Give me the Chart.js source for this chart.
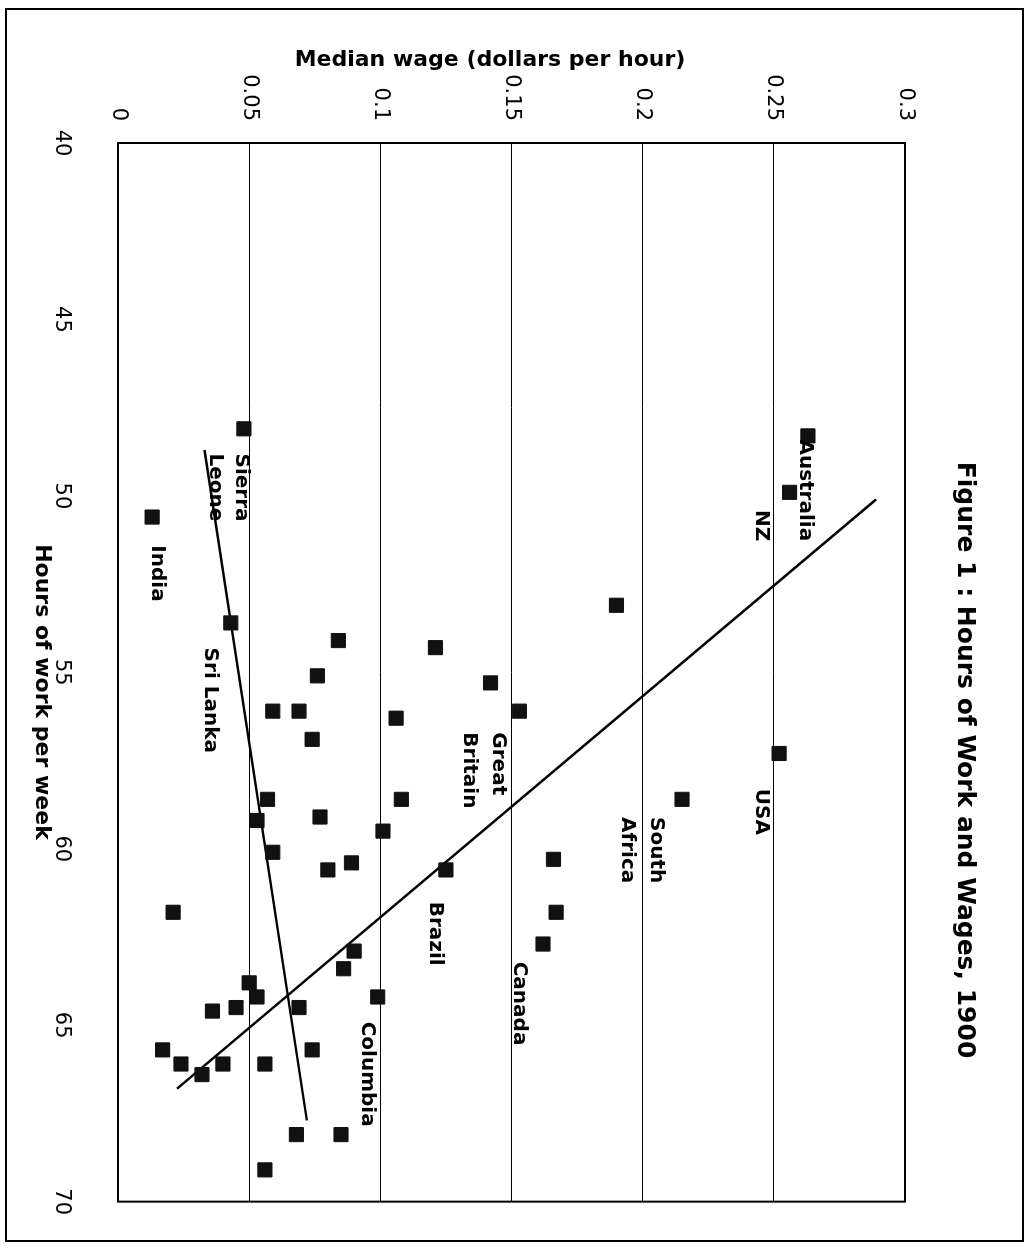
<!DOCTYPE html>
<html>
<head>
<meta charset="utf-8">
<script src="https://cdn.jsdelivr.net/npm/chart.js@4/dist/chart.umd.min.js"></script>
<style>
  html, body { margin: 0; padding: 0; background: #fff; }
  #page { position: relative; width: 1030px; height: 1251px; overflow: hidden; }
  #frame { position: absolute; left: 5px; top: 8px; width: 1015px; height: 1230px; border: 2px solid #000; }
  #wrap { position: absolute; left: 0; top: 0; width: 1251px; height: 1030px;
          transform-origin: 0 0; transform: translate(1030px, 0) rotate(90deg); }
</style>
</head>
<body>
<div id="page">
  <div id="frame"></div>
  <div id="wrap"><canvas id="c"></canvas></div>
</div>
<script>
// hours of work per week / median wage (dollars per hour)
const hours = [48.3, 49.9, 53.1, 57.3, 58.6, 54.3, 55.3, 56.1, 54.1, 55.1, 56.1, 56.1, 56.3, 56.9, 58.6, 58.6,
  59.2, 59.1, 59.5, 60.1, 60.3, 60.4, 60.6, 60.6, 61.8, 61.8, 62.7, 62.9, 63.4, 63.8, 64.2, 64.2, 64.5, 64.6,
  64.5, 65.7, 65.7, 66.1, 66.1, 66.1, 66.4, 68.1, 68.1, 69.1, 48.1, 50.6, 53.6];
const wages = [0.263, 0.256, 0.190, 0.252, 0.215, 0.121, 0.142, 0.153, 0.084, 0.076, 0.059, 0.069, 0.106, 0.074, 0.108, 0.057,
  0.053, 0.077, 0.101, 0.059, 0.166, 0.089, 0.080, 0.125, 0.167, 0.021, 0.162, 0.090, 0.086, 0.050, 0.053, 0.099, 0.045, 0.036,
  0.069, 0.074, 0.017, 0.040, 0.024, 0.056, 0.032, 0.068, 0.085, 0.056, 0.048, 0.013, 0.043];
const trendRich = [{ x: 50.1, y: 0.289 }, { x: 66.8, y: 0.0225 }];
const trendPoor = [{ x: 48.7, y: 0.033 }, { x: 67.7, y: 0.072 }];
const labelText = ['Australia', 'NZ', 'USA', 'South', 'Africa', 'Great', 'Britain', 'Brazil', 'Canada', 'Columbia',
  'Sierra', 'Leone', 'India', 'Sri Lanka'];
const labelHours = [48.4, 50.4, 58.3, 59.1, 59.1, 56.7, 56.7, 61.5, 63.2, 64.9, 48.8, 48.8, 51.4, 54.3];
const labelWages = [0.262, 0.245, 0.245, 0.205, 0.194, 0.145, 0.134, 0.121, 0.153, 0.095, 0.047, 0.037, 0.015, 0.035];

const FONT = 'DejaVu Sans, Verdana, sans-serif';

const extras = {
  id: 'extras',
  afterDraw(chart) {
    const { ctx, chartArea: a, scales: { x, y } } = chart;
    ctx.save();
    ctx.strokeStyle = '#000';
    ctx.lineWidth = 2;
    ctx.strokeRect(a.left, a.top, a.right - a.left, a.bottom - a.top);
    ctx.fillStyle = '#000';
    ctx.textBaseline = 'middle';
    ctx.textAlign = 'left';
    ctx.font = 'bold 20px ' + FONT;
    labelText.forEach((t, i) => ctx.fillText(t, x.getPixelForValue(labelHours[i]), y.getPixelForValue(labelWages[i])));
    ctx.textAlign = 'center';
    ctx.font = 'bold 25px ' + FONT;
    ctx.fillText('Figure 1 : Hours of Work and Wages, 1900', 760, 65);
    ctx.font = 'bold 22px ' + FONT;
    ctx.fillText('Hours of work per week', 692, 988);
    ctx.translate(60, 540);
    ctx.rotate(-Math.PI / 2);
    ctx.fillText('Median wage (dollars per hour)', 0, 0);
    ctx.restore();
  }
};

new Chart(document.getElementById('c'), {
  type: 'scatter',
  data: {
    datasets: [
      { data: hours.map((h, i) => ({ x: h, y: wages[i] })), pointStyle: 'rect', pointRadius: 10,
        backgroundColor: '#111', borderColor: '#111' },
      { data: trendRich, showLine: true, pointRadius: 0, borderColor: '#000', borderWidth: 2.5 },
      { data: trendPoor, showLine: true, pointRadius: 0, borderColor: '#000', borderWidth: 2.5 }
    ]
  },
  options: {
    responsive: true,
    maintainAspectRatio: false,
    animation: false,
    layout: { padding: { top: 125, right: 46, left: 0, bottom: 0 } },
    plugins: { legend: { display: false }, tooltip: { enabled: false } },
    scales: {
      x: {
        min: 40, max: 70,
        ticks: { stepSize: 5, color: '#000', font: { family: FONT, size: 21 }, padding: 36 },
        grid: { display: false },
        border: { display: false },
        afterFit: s => { s.height = 118; }
      },
      y: {
        min: 0, max: 0.3,
        ticks: { stepSize: 0.05, color: '#000', font: { family: FONT, size: 21 }, padding: 22,
                 callback: v => String(Math.round(v * 100) / 100) },
        grid: { color: '#000', lineWidth: 1, drawTicks: false },
        border: { display: false },
        afterFit: s => { s.width = 143; }
      }
    }
  },
  plugins: [extras]
});
</script>
</body>
</html>
